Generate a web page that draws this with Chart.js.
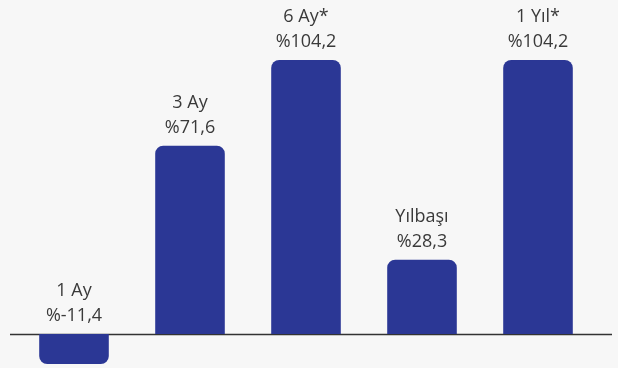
<!DOCTYPE html>
<html>
<head>
<meta charset="utf-8">
<script src="https://cdn.jsdelivr.net/npm/chart.js@4"></script>
<style>
  html, body { margin: 0; padding: 0; background: #f7f7f7; }
  #wrap { width: 618px; height: 368px; position: relative; }
</style>
</head>
<body>
<div id="wrap"><canvas id="grafico"></canvas></div>
<script>
const donemler = ['1 Ay', '3 Ay', '6 Ay*', 'Yılbaşı', '1 Yıl*'];
const getiriler = [-11.4, 71.6, 104.2, 28.3, 104.2];
const etiketler = ['%-11,4', '%71,6', '%104,2', '%28,3', '%104,2'];

// etiketleri çubukların üstüne yaz
const etiketEklentisi = {
  id: 'etiketler',
  afterDatasetsDraw(chart) {
    const ctx = chart.ctx;
    const meta = chart.getDatasetMeta(0);
    const sifir = chart.scales.y.getPixelForValue(0);
    ctx.save();
    ctx.fillStyle = '#3a3a3a';
    ctx.font = '18px "Open Sans"';
    ctx.textAlign = 'center';
    ctx.textBaseline = 'middle';
    meta.data.forEach((bar, i) => {
      const ust = Math.min(bar.y, sifir);
      ctx.fillText(etiketler[i], bar.x, ust - 18);
      ctx.fillText(donemler[i], bar.x, ust - 43);
    });
    ctx.restore();
  }
};

// sıfır çizgisi
const tabanCizgisi = {
  id: 'taban',
  beforeDatasetsDraw(chart) {
    const ctx = chart.ctx;
    const y = Math.round(chart.scales.y.getPixelForValue(0)) + 0.5;
    ctx.save();
    ctx.strokeStyle = '#333333';
    ctx.lineWidth = 1.5;
    ctx.beginPath();
    ctx.moveTo(10, y);
    ctx.lineTo(612, y);
    ctx.stroke();
    ctx.restore();
  }
};

new Chart(document.getElementById('grafico').getContext('2d'), {
  type: 'bar',
  data: {
    labels: donemler,
    datasets: [{
      data: getiriler,
      backgroundColor: '#2b3795',
      borderRadius: 8,
      barPercentage: 0.6,
      categoryPercentage: 1
    }]
  },
  options: {
    responsive: true,
    maintainAspectRatio: false,
    animation: false,
    layout: { padding: { left: 16, right: 22, top: 60, bottom: 1 } },
    plugins: { legend: { display: false }, tooltip: { enabled: false } },
    scales: {
      x: { display: false },
      y: { display: false, min: -12.5, max: 104.2 }
    }
  },
  plugins: [tabanCizgisi, etiketEklentisi]
});
</script>
</body>
</html>
